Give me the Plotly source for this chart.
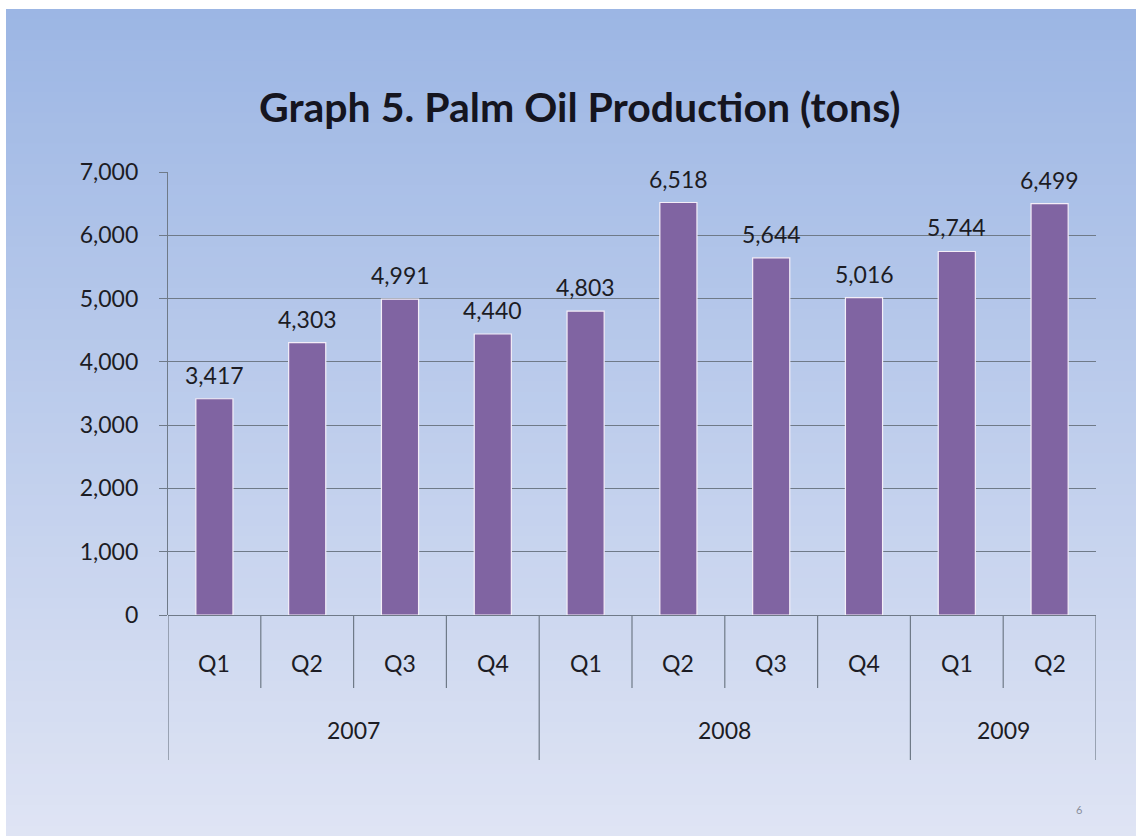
import plotly.graph_objects as go

# ---- data ----
years = ["2007", "2007", "2007", "2007", "2008", "2008", "2008", "2008", "2009", "2009"]
quarters = ["Q1", "Q2", "Q3", "Q4", "Q1", "Q2", "Q3", "Q4", "Q1", "Q2"]
production = [3417, 4303, 4991, 4440, 4803, 6518, 5644, 5016, 5744, 6499]
y_ticks = [0, 1000, 2000, 3000, 4000, 5000, 6000, 7000]

title = "Graph 5. Palm Oil Production (tons)"
FONT = "Lato, 'Open Sans', sans-serif"

# ---- layout geometry (pixels; page body margin removed via post_script) ----
W, H = 1136, 836
L, T = 168, 172
RIGHT, BOTTOM = 1096, 615
R, B = W - RIGHT, H - BOTTOM
PW, PH = W - L - R, H - T - B

def px(x):  # pixel x -> paper x
    return (x - L) / PW

def py(y):  # pixel y -> paper y
    return (H - B - y) / PH

cats = [f"{y} {q}" for y, q in zip(years, quarters)]

fig = go.Figure(go.Bar(
    x=cats, y=production,
    marker=dict(color="#8064A2", line=dict(color="#F4EEF8", width=1.2)),
    width=0.40,
    hoverinfo="x+y",
))

shapes = []
# background gradient (slide)
top_c = (156, 182, 228)
bot_c = (223, 228, 244)
n = 80
y_start, y_end = 9, 836
for i in range(n):
    y0 = y_start + (y_end - y_start) * i / n
    y1 = y_start + (y_end - y_start) * (i + 1) / n + 0.8
    t = (i + 0.5) / n
    c = tuple(round(a + (b - a) * t) for a, b in zip(top_c, bot_c))
    shapes.append(dict(type="rect", xref="paper", yref="paper", layer="below",
                       x0=px(6), x1=px(1140), y0=py(min(y1, 840)), y1=py(y0),
                       line=dict(width=0), fillcolor=f"rgb{c}"))

# category dividers below the axis
ax_col = "#6F7A88"
n_cat = len(cats)
for i in range(n_cat + 1):
    b = i - 0.5
    is_year_edge = (i == 0 or i == n_cat or years[i] != years[i - 1])
    bottom = 760 if is_year_edge else 688
    shapes.append(dict(type="line", xref="x", yref="paper", x0=b, x1=b,
                       y0=0, y1=py(bottom), line=dict(color=ax_col, width=1.2),
                       layer="above"))

annotations = []
# data labels
for c, v in zip(cats, production):
    annotations.append(dict(x=c, y=v, xref="x", yref="y", text=f"{v:,}",
                            showarrow=False, yanchor="bottom", yshift=8,
                            font=dict(family=FONT, size=23, color="#1c1c24")))
# quarter labels
for c, q in zip(cats, quarters):
    annotations.append(dict(x=c, y=py(663), xref="x", yref="paper", text=q,
                            showarrow=False, yanchor="middle",
                            font=dict(family=FONT, size=23, color="#1c1c24")))
# year labels (centered in each group)
groups = []
for i, yv in enumerate(years):
    if not groups or groups[-1][0] != yv:
        groups.append([yv, i, i])
    else:
        groups[-1][2] = i
for yv, a, b in groups:
    annotations.append(dict(x=(a + b) / 2, y=py(730), xref="x", yref="paper", text=yv,
                            showarrow=False, yanchor="middle",
                            font=dict(family=FONT, size=23, color="#1c1c24")))
# title
annotations.append(dict(x=px(580), y=py(106), xref="paper", yref="paper", text=f"<b>{title}</b>",
                        showarrow=False, xanchor="center", yanchor="middle",
                        font=dict(family=FONT, size=41, color="#15151f")))
# page number
annotations.append(dict(x=px(1084), y=py(818), xref="paper", yref="paper", text="6",
                        showarrow=False, font=dict(family=FONT, size=11, color="#8a8f9c")))

fig.update_layout(
    width=W, height=H,
    margin=dict(l=L, r=R, t=T, b=B, pad=0),
    paper_bgcolor="white",
    plot_bgcolor="rgba(0,0,0,0)",
    showlegend=False,
    shapes=shapes,
    annotations=annotations,
    xaxis=dict(type="category", showticklabels=False, showgrid=False, ticks="",
               showline=False, zeroline=False, range=[-0.5, n_cat - 0.5], fixedrange=True),
    yaxis=dict(range=[0, 7000], tickvals=y_ticks, tickformat=",d",
               showgrid=True, gridcolor=ax_col, gridwidth=1.2,
               zeroline=True, zerolinecolor=ax_col, zerolinewidth=1.2,
               showline=True, linecolor=ax_col, linewidth=1.2,
               ticks="outside", ticklen=8, tickcolor=ax_col, tickwidth=1.2,
               ticklabelstandoff=16,
               tickfont=dict(family=FONT, size=23, color="#1c1c24"), fixedrange=True),
    bargap=0.6,
)

fig.write_html("out.html",
               config={"displayModeBar": False},
               post_script="document.body.style.margin='0';document.documentElement.style.overflow='hidden';")
